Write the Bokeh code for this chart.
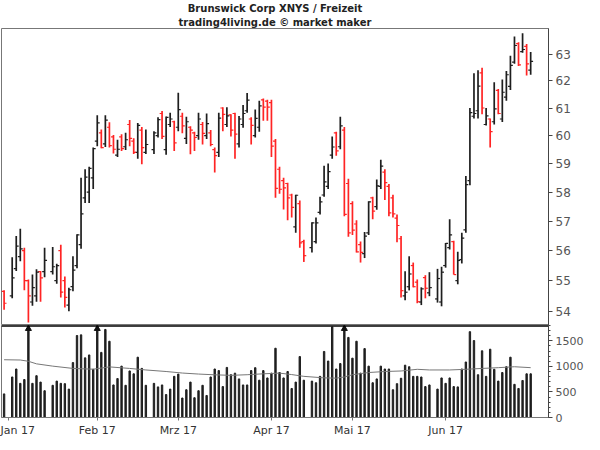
import numpy as np
import pandas as pd
from bokeh.plotting import figure
from bokeh.layouts import column
from bokeh.models import (Range1d, FixedTicker, Title, SingleIntervalTicker,
                          PrintfTickFormatter, ColumnDataSource)
from bokeh.embed import file_html
from bokeh.resources import INLINE

# ---------------- data ----------------
holidays = ["2017-01-02", "2017-01-16", "2017-02-20", "2017-04-14", "2017-05-29"]
first_day, last_day = "2016-12-30", "2017-06-30"

opens = [54.65, 54.5, 55.4, 55.8, 56.0, 55.0, 54.3, 54.5, 55.3, 55.3,
         55.3, 55.0, 56.0, 55.0, 54.2, 54.8, 55.5, 56.2, 57.8, 58.0,
         58.5, 59.8, 60.1, 59.7, 60.3, 59.95, 59.3, 59.95, 59.6, 60.4,
         59.8, 59.4, 60.2, 59.4, 59.5, 60.0, 60.8, 59.5, 60.4, 60.5,
         60.3, 60.7, 59.9, 60.3, 60.1, 60.0, 60.4, 60.0, 60.1, 59.5,
         59.4, 61.0, 60.4, 60.75, 60.8, 59.7, 60.4, 60.9, 60.6, 60.0,
         60.3, 61.3, 61.25, 61.2, 59.8, 58.8, 58.4, 58.3, 57.9, 56.8,
         57.6, 56.3, 56.1, 56.3, 57.3, 57.9, 58.2, 59.3, 60.1, 59.6,
         60.2, 58.3, 57.6, 56.9, 56.2, 55.9, 56.6, 57.8, 57.5, 58.2,
         58.7, 58.2, 57.8, 57.1, 56.4, 54.5, 54.8, 55.5, 54.95, 54.3,
         55.1, 54.6, 54.4, 54.3, 55.5, 56.1, 56.3, 55.0, 55.7, 56.7,
         58.4, 60.7, 60.9, 62.3, 60.4, 60.6, 60.5, 61.65, 60.6, 61.4,
         61.8, 62.7, 63.4, 63.1, 63.3, 62.4]
highs = [54.68, 55.78, 56.49, 56.74, 56.1, 55.04, 55.2, 55.38, 55.32, 56.1,
         56.12, 55.56, 56.2, 55.14, 54.77, 55.81, 56.55, 58.5, 58.8, 58.89,
         59.57, 60.74, 60.22, 60.74, 60.48, 60.02, 59.85, 60.05, 60.1, 60.56,
         59.9, 60.45, 60.31, 60.22, 60.16, 60.66, 60.89, 60.69, 60.83, 60.54,
         61.56, 60.83, 60.68, 60.34, 60.14, 60.83, 60.49, 60.8, 60.2, 59.57,
         60.83, 61.03, 61.03, 60.77, 60.83, 60.71, 61.11, 61.55, 60.66, 60.95,
         61.27, 61.35, 61.3, 61.3, 59.88, 58.89, 58.5, 58.33, 57.94, 57.91,
         57.71, 56.37, 56.96, 57.12, 57.84, 58.92, 59.0, 59.97, 60.14, 60.68,
         60.31, 58.47, 57.68, 57.03, 56.31, 56.63, 57.68, 57.84, 58.44, 59.14,
         58.8, 58.28, 57.91, 57.23, 56.49, 55.31, 55.81, 55.6, 55.04, 54.78,
         55.18, 55.28, 55.39, 55.46, 56.26, 57.06, 56.33, 55.96, 56.6, 58.56,
         61.0, 62.29, 62.4, 62.49, 61.0, 60.62, 61.95, 61.7, 62.05, 62.37,
         62.94, 63.67, 63.45, 63.8, 63.39, 63.08]
lows = [54.05, 54.42, 55.32, 55.64, 54.68, 53.64, 54.18, 54.31, 54.31, 55.11,
        55.2, 54.9, 54.45, 54.12, 54.0, 54.65, 55.41, 56.06, 57.62, 57.62,
        58.11, 59.62, 59.55, 59.59, 59.57, 59.36, 59.23, 59.45, 59.48, 59.62,
        59.34, 59.17, 58.98, 59.34, 59.34, 59.93, 59.88, 59.31, 60.31, 59.45,
        60.16, 60.08, 59.7, 59.33, 59.45, 59.85, 59.68, 59.88, 59.62, 58.69,
        59.23, 60.16, 60.31, 59.97, 59.17, 59.57, 60.28, 60.83, 59.68, 59.93,
        60.14, 60.54, 60.54, 59.23, 57.8, 57.94, 57.4, 57.03, 57.12, 56.6,
        56.1, 55.62, 55.94, 56.24, 57.23, 57.84, 58.11, 59.17, 59.28, 59.51,
        57.17, 56.47, 56.53, 55.94, 55.6, 55.75, 56.53, 57.06, 57.39, 58.11,
        57.73, 57.17, 57.12, 56.28, 54.45, 54.36, 54.68, 54.78, 54.26, 54.2,
        54.42, 54.49, 54.28, 54.16, 55.43, 56.04, 55.2, 54.88, 55.57, 56.6,
        58.24, 60.62, 60.62, 60.77, 60.36, 59.57, 60.4, 60.77, 60.49, 61.27,
        61.66, 62.64, 62.56, 63.06, 62.2, 62.23]
closes = [54.26, 55.09, 56.15, 56.06, 55.0, 54.5, 54.77, 55.28, 55.09, 55.67,
          55.46, 55.5, 54.62, 54.45, 54.7, 55.35, 56.53, 57.25, 58.52, 58.83,
          59.53, 60.46, 59.57, 60.56, 59.64, 59.51, 59.51, 59.53, 59.85, 59.9,
          59.4, 60.37, 59.57, 59.68, 60.1, 60.58, 59.97, 60.66, 60.6, 59.74,
          60.94, 60.35, 60.5, 60.2, 59.93, 60.6, 60.08, 60.43, 59.68, 59.28,
          60.63, 60.77, 60.71, 60.2, 60.05, 60.6, 60.8, 61.29, 60.37, 60.62,
          61.08, 61.03, 61.03, 59.62, 58.13, 58.1, 58.15, 57.8, 57.47, 57.89,
          56.26, 55.83, 56.94, 56.94, 57.66, 58.36, 58.72, 59.59, 59.45, 60.35,
          57.23, 56.6, 56.69, 55.96, 55.94, 56.49, 57.66, 57.34, 58.22, 58.91,
          58.33, 57.28, 57.25, 56.85, 54.67, 54.62, 55.22, 54.8, 54.31, 54.73,
          54.75, 54.77, 55.07, 55.28, 56.24, 56.53, 55.2, 55.67, 56.42, 58.26,
          60.83, 60.8, 61.81, 61.0, 60.71, 60.14, 60.97, 60.8, 61.58, 62.23,
          62.58, 63.33, 62.6, 63.18, 62.64, 62.73]
volumes = [462, 793, 949, 668, 743, 2100, 668, 818, 693, 524,
           630, 712, 668, 662, 556, 1074, 1604, 1617, 1167, 1224,
           943, 2000, 1274, 1723, 1492, 637, 762, 1005, 630, 911,
           855, 1180, 961, 630, 668, 599, 637, 449, 556, 805,
           849, 381, 543, 693, 387, 524, 630, 431, 793, 949,
           918, 605, 980, 837, 868, 755, 637, 637, 918, 974,
           730, 918, 774, 868, 1355, 880, 774, 900, 568, 693,
           1192, 730, 712, 680, 805, 1292, 1105, 1773, 949, 1055,
           2000, 1567, 1161, 1492, 868, 1348, 1005, 680, 755, 1005,
           949, 949, 543, 662, 768, 1024, 993, 805, 805, 793,
           605, 637, 556, 774, 668, 774, 605, 599, 949, 1086,
           1679, 1505, 837, 1305, 805, 1336, 943, 712, 880, 993,
           1180, 649, 568, 724, 855, 855]

ma_dates = ["2016-12-30", "2017-01-05", "2017-01-09", "2017-01-11", "2017-01-17",
            "2017-01-24", "2017-01-31", "2017-02-06", "2017-02-13", "2017-02-17",
            "2017-02-24", "2017-03-02", "2017-03-08", "2017-03-14", "2017-03-20",
            "2017-03-24", "2017-03-30", "2017-04-05", "2017-04-10", "2017-04-13",
            "2017-04-20", "2017-04-25", "2017-04-27", "2017-05-01", "2017-05-05",
            "2017-05-11", "2017-05-17", "2017-05-23", "2017-05-26", "2017-06-02",
            "2017-06-08", "2017-06-14", "2017-06-20", "2017-06-26", "2017-06-30"]
ma_values = [1130, 1125, 1100, 1050, 1005, 960, 945, 990, 960, 930,
             900, 870, 850, 835, 825, 837, 855, 868, 840, 805,
             775, 770, 793, 837, 880, 900, 910, 943, 930, 930,
             943, 960, 975, 993, 975]

month_starts = ["2017-01-02", "2017-02-01", "2017-03-01", "2017-04-03", "2017-05-01", "2017-06-01"]
month_labels = ["Jan 17", "Feb 17", "Mrz 17", "Apr 17", "Mai 17", "Jun 17"]
price_ticks = [54, 55, 56, 57, 58, 59, 60, 61, 62, 63]

title1 = "Brunswick Corp XNYS / Freizeit"
title2 = "trading4living.de \u00a9 market maker"

# ---------------- derived positions (weekday slots) ----------------
dates = [d for d in pd.bdate_range(first_day, last_day).strftime("%Y-%m-%d") if d not in holidays]
origin = np.datetime64("2017-01-02")
def slot(ds):
    return np.busday_count(origin, np.array(ds, dtype="datetime64[D]")).astype(float)

x = slot(dates)
ma_x = slot(ma_dates)
tick_x = [int(v) for v in slot(month_starts)]

UP, DOWN = "#1e1e1e", "#ff2424"
up = np.array(closes) >= np.array(opens)
colors = [UP if u else DOWN for u in up]

src = ColumnDataSource(dict(x=x, o=opens, h=highs, l=lows, c=closes, v=volumes,
                            xl=x - 0.6, xr=x + 0.6, col=colors))

xr = Range1d(-1.64, 133.4)
FONT = "DejaVu Sans"
FW = 547

# ---------------- price panel ----------------
p1 = figure(frame_width=FW, frame_height=297, x_range=xr,
            y_range=Range1d(53.54, 63.98), y_axis_type="log",
            y_axis_location="right", x_axis_location=None,
            output_backend="svg", toolbar_location=None,
            min_border_left=1, min_border_right=36, min_border_top=0, min_border_bottom=0)
p1.grid.visible = False
p1.outline_line_color = "#777777"
p1.background_fill_color = "white"

p1.add_layout(Title(text=title2, align="center", offset=16, standoff=1,
                    text_font=FONT, text_font_size="10px", text_font_style="bold",
                    text_color="#222222"), "above")
p1.add_layout(Title(text=title1, align="center", offset=16, standoff=1,
                    text_font=FONT, text_font_size="10px", text_font_style="bold",
                    text_color="#222222"), "above")

ya = p1.yaxis[0]
ya.ticker = FixedTicker(ticks=price_ticks)
ya.formatter = PrintfTickFormatter(format="%d")
ya.axis_line_color = "#444444"
ya.major_tick_line_color = "#444444"
ya.major_tick_out = 4
ya.major_tick_in = 0
ya.minor_tick_line_color = None
ya.major_label_standoff = 3
ya.major_label_text_font = FONT
ya.major_label_text_font_size = "12px"
ya.major_label_text_color = "#555555"

p1.segment(x0="x", y0="l", x1="x", y1="h", color="col", line_width=1.7, source=src)
p1.segment(x0="xl", y0="o", x1="x", y1="o", color="col", line_width=1.2, source=src)
p1.segment(x0="x", y0="c", x1="xr", y1="c", color="col", line_width=1.2, source=src)

# ---------------- volume panel ----------------
vmax = 1800
p2 = figure(frame_width=FW, frame_height=92, x_range=xr, y_range=Range1d(0, vmax),
            y_axis_location="right", output_backend="svg", toolbar_location=None,
            min_border_left=1, min_border_right=36, min_border_top=0, min_border_bottom=0)
p2.grid.visible = False
p2.outline_line_color = "#777777"

p2.vbar(x="x", top="v", width=0.34, bottom=0, color="#1e1e1e", source=src)
p2.line(ma_x, ma_values, color="#777777", line_width=1)
clip = np.array(volumes) > vmax
p2.scatter(x[clip], [vmax * 0.965] * int(clip.sum()), marker="triangle",
           size=6, color="#111111")

# separator between panels
p2.segment(x0=[xr.start], y0=[vmax], x1=[xr.end], y1=[vmax], color="black", line_width=2.5)

va = p2.yaxis[0]
va.ticker = SingleIntervalTicker(interval=500, num_minor_ticks=5)
va.axis_line_color = "#444444"
va.major_tick_line_color = "#444444"
va.minor_tick_line_color = "#444444"
va.major_tick_out = 4
va.major_tick_in = 0
va.minor_tick_out = 2
va.minor_tick_in = 0
va.major_label_standoff = 3
va.major_label_text_font = FONT
va.major_label_text_font_size = "11px"
va.major_label_text_color = "#555555"

xa = p2.xaxis[0]
xa.ticker = FixedTicker(ticks=tick_x)
xa.major_label_overrides = {t: lab for t, lab in zip(tick_x, month_labels)}
xa.major_label_text_align = "left"
xa.axis_line_color = "#777777"
xa.major_tick_line_color = "#777777"
xa.major_tick_out = 3
xa.major_tick_in = 0
xa.minor_tick_line_color = None
xa.major_label_standoff = 3
xa.major_label_text_font = FONT
xa.major_label_text_font_size = "11px"
xa.major_label_text_color = "#333333"

layout = column(p1, p2, spacing=0)
open("out.html", "w").write(file_html(layout, INLINE))
